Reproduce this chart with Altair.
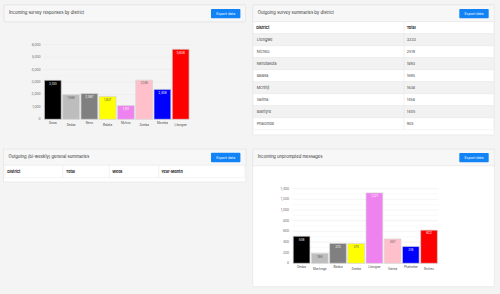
import altair as alt
import pandas as pd

FONT = "Inter"

# ---------------- data ----------------
survey_districts = ["Dowa", "Dedza", "Neno", "Balaka", "Mchinji", "Zomba", "Mzimba", "Lilongwe"]
survey_counts = [3140, 1980, 2067, 1837, 1101, 3146, 2408, 5636]
survey_ticks = [0, 1000, 2000, 3000, 4000, 5000, 6000]

summary_districts = ["Lilongwe", "Ntcheu", "Nkhotakota", "Balaka", "Mchinji", "Salima", "Blantyre", "Phalombe"]
summary_totals = [3233, 2519, 1893, 1695, 1638, 1458, 1445, 905]

general_columns = ["District", "Total", "Week", "Year-Month"]

unprompted_districts = ["Dedza", "Machinga", "Balaka", "Zomba", "Lilongwe", "Salima", "Phalombe", "Ntcheu"]
unprompted_counts = [508, 186, 373, 370, 1321, 457, 316, 622]
unprompted_ticks = [0, 200, 400, 600, 800, 1000, 1200, 1400]

bar_palette = ["#000000", "#bdbdbd", "#808080", "#ffff00", "#ee82ee", "#ffc0cb", "#0000ff", "#ff0000"]

ONE = alt.Data(values=[{}])


def rect(x, x2, y, y2, fill, stroke=None, sw=0.6, cr=0):
    kw = dict(fill=fill, cornerRadius=cr)
    if stroke:
        kw.update(stroke=stroke, strokeWidth=sw)
    return alt.Chart(ONE).mark_rect(**kw).encode(
        x=alt.value(x), x2=alt.value(x2), y=alt.value(y), y2=alt.value(y2))


def label(txt, x, y, size=4.2, color="#333333", align="left", weight="normal"):
    return alt.Chart(ONE).mark_text(
        text=txt, font=FONT, fontSize=size, color=color, align=align,
        baseline="middle", fontWeight=weight).encode(x=alt.value(x), y=alt.value(y))


def vline(x, y, y2, color="#e3e3e3"):
    return alt.Chart(ONE).mark_rule(color=color, strokeWidth=0.5).encode(
        x=alt.value(x), y=alt.value(y), y2=alt.value(y2))


def panel(x, x2, y, y2, hy, title, bx, by, by2):
    return [
        rect(x, x2, y, y2, "#ffffff", "#e2e2e2", 0.6),
        rect(x, x2, y, hy, "#f7f7f7", "#e2e2e2", 0.6),
        label(title, x + 5, (y + hy) / 2 - 0.8, 4.2),
        rect(bx, bx + 29.4, by, by2, "#1283f7", cr=1),
        label("Export data", bx + 14.7, (by + by2) / 2, 3.5, "#ffffff", "center"),
    ]


def bar_panel(districts, counts, ticks, x_range, y_range, ylab_x, lab_y):
    df = pd.DataFrame({"district": districts, "count": counts})
    light = [districts[1], districts[3], districts[5]]
    test = "indexof(" + str(light) + ", datum.district) >= 0"
    yscale = alt.Scale(domain=[ticks[0], ticks[-1]], range=y_range, nice=False)
    xenc = alt.X("district:N", sort=None, axis=None,
                 scale=alt.Scale(range=x_range, paddingInner=0.08, paddingOuter=0.05))
    yenc = alt.Y("count:Q", scale=yscale, axis=None)
    tdf = pd.DataFrame({"tick": ticks})
    step = ticks[1] - ticks[0]
    mdf = pd.DataFrame({"tick": [t + step / 2 for t in ticks[:-1]]})

    minor = alt.Chart(mdf).mark_rule(color="#f3f3f3", strokeWidth=0.5).encode(
        y=alt.Y("tick:Q", scale=yscale, axis=None),
        x=alt.value(x_range[0]), x2=alt.value(x_range[1]))
    grid = alt.Chart(tdf).mark_rule(color="#e8e8e8", strokeWidth=0.5).encode(
        y=alt.Y("tick:Q", scale=yscale, axis=None),
        x=alt.value(x_range[0]), x2=alt.value(x_range[1]))
    ylabels = alt.Chart(tdf).mark_text(
        font=FONT, fontSize=3.3, color="#666666", align="right", baseline="middle").encode(
        y=alt.Y("tick:Q", scale=yscale, axis=None),
        x=alt.value(ylab_x), text=alt.Text("tick:Q", format=","))
    bars = alt.Chart(df).mark_bar(stroke="#d6d6d6", strokeWidth=0.7).encode(
        x=xenc, y=yenc,
        color=alt.Color("district:N", sort=None, legend=None,
                        scale=alt.Scale(domain=districts, range=bar_palette)))
    vals = alt.Chart(df).mark_text(
        font=FONT, fontSize=3.0, baseline="top", dy=2.2).encode(
        x=xenc, y=yenc, text=alt.Text("count:Q", format=","),
        color=alt.condition(test, alt.value("#555555"), alt.value("#ffffff")))
    xl_base = alt.Chart(df).transform_window(idx="row_number()")
    xl1 = xl_base.transform_filter("datum.idx % 2 == 1").mark_text(
        font=FONT, fontSize=2.9, color="#444444", baseline="middle").encode(
        x=xenc, y=alt.value(lab_y[0]), text="district:N")
    xl2 = xl_base.transform_filter("datum.idx % 2 == 0").mark_text(
        font=FONT, fontSize=2.9, color="#444444", baseline="middle").encode(
        x=xenc, y=alt.value(lab_y[1]), text="district:N")
    return alt.layer(minor, grid, ylabels, bars, vals, xl1, xl2)


def table_panel(districts, totals, x0, x1, xdiv, y_range):
    df = pd.DataFrame({"district": districts, "total": totals})
    ysc = alt.Scale(range=y_range, paddingInner=0, paddingOuter=0)
    stripes = alt.Chart(df).transform_window(r="row_number()").mark_rect(
        stroke="#e6e6e6", strokeWidth=0.4).encode(
        y=alt.Y("district:N", sort=None, scale=ysc, axis=None),
        x=alt.value(x0), x2=alt.value(x1),
        fill=alt.condition("datum.r % 2 == 1", alt.value("#f2f2f2"), alt.value("#ffffff")))
    names = alt.Chart(df).mark_text(
        font=FONT, fontSize=3.7, color="#444444", align="left", baseline="middle").encode(
        y=alt.Y("district:N", sort=None, scale=ysc, axis=None, bandPosition=0.5),
        x=alt.value(x0 + 3.5), text="district:N")
    tots = alt.Chart(df).mark_text(
        font=FONT, fontSize=3.7, color="#444444", align="left", baseline="middle").encode(
        y=alt.Y("district:N", sort=None, scale=ysc, axis=None, bandPosition=0.5),
        x=alt.value(xdiv + 2.7), text=alt.Text("total:Q", format="d"))
    return alt.layer(stripes, names, tots)


layers = []
# panel 1
layers += panel(4, 245.5, 5, 21.7, 21.7, "Incoming survey responses by district", 211, 9, 18.3)
# panel 2
layers += panel(252.7, 494.3, 5, 135, 21.7, "Outgoing survey summaries by district", 459.3, 9, 18.3)
layers += [
    rect(253.2, 493.8, 21.7, 33.7, "#ffffff", "#e6e6e6", 0.4),
    label("District", 256.2, 27.7, 3.7, "#222222", weight="bold"),
    label("Total", 406.7, 27.7, 3.7, "#222222", weight="bold"),
]
# panel 3
layers += panel(3.5, 246, 149.3, 182, 165.3, "Outgoing (bi-weekly) general summaries", 211, 152.7, 162.3)
layers += [rect(4.7, 244.7, 165.3, 177.7, "#ffffff", "#e6e6e6", 0.4)]
col_x = [7.3, 66, 112.3, 161.3]
for cx, name in zip(col_x, general_columns):
    layers.append(label(name, cx, 171.5, 3.7, "#222222", weight="bold"))
for dx in [62.7, 109.3, 158.7]:
    layers.append(vline(dx, 165.3, 177.7))
# panel 4
layers += panel(252.7, 494.3, 149.3, 286.7, 165.7, "Incoming unprompted messages", 459.3, 153, 162.3)

chart1 = bar_panel(survey_districts, survey_counts, survey_ticks,
                   [43.5, 190], [119.3, 44.7], 40.7, [122.4, 125.1])
table2 = table_panel(summary_districts, summary_totals, 253.2, 493.8, 404, [33.7, 129.7])
chart4 = bar_panel(unprompted_districts, unprompted_counts, unprompted_ticks,
                   [292.3, 438.3], [263.3, 188.7], 289.2, [266.4, 269.1])

layers += [chart1, table2, vline(404, 21.7, 129.7), chart4]

chart = alt.layer(*layers).resolve_scale(
    x="independent", y="independent", color="independent"
).properties(
    width=500, height=294, padding=0,
    autosize=alt.AutoSizeParams(type="none"),
    background="#f4f4f4",
).configure_view(stroke=None)

chart.save("out.html", embed_options={"renderer": "svg", "actions": False})
